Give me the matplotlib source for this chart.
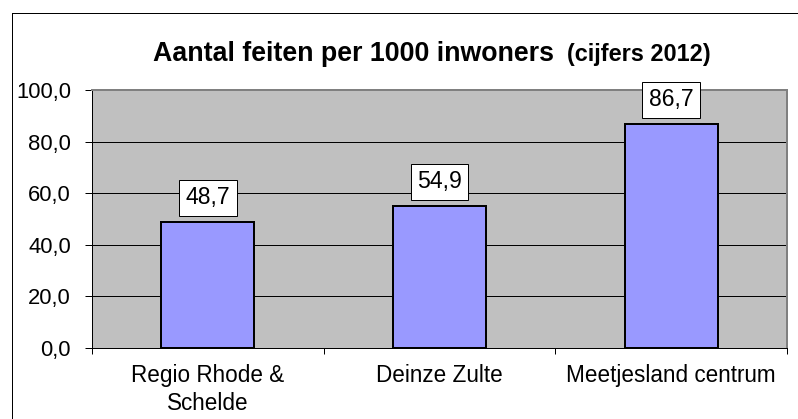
import matplotlib
matplotlib.use("Agg")
import matplotlib.pyplot as plt
from matplotlib.lines import Line2D
from matplotlib.ticker import FixedLocator, FuncFormatter

categories = ["Regio Rhode &\nSchelde", "Deinze Zulte", "Meetjesland centrum"]
values = [48.7, 54.9, 86.7]
yticks = [0, 20, 40, 60, 80, 100]
title_main = "Aantal feiten per 1000 inwoners"
title_sub = "(cijfers 2012)"

W, H = 798, 419
DPI = 72
plt.rcParams['font.family'] = ['Liberation Sans', 'DejaVu Sans']

fig = plt.figure(figsize=(W / DPI, H / DPI), dpi=DPI)
fig.patch.set_facecolor("white")

left, right, top, bottom = 92, 787, 90, 348
ax = fig.add_axes([left / W, 1 - bottom / H, (right - left) / W, (bottom - top) / H])
ax.set_facecolor("#C0C0C0")

x = list(range(len(categories)))
bars = ax.bar(x, values, width=0.40, color="#9999FF", edgecolor="black", linewidth=2, zorder=3)

ax.set_xlim(-0.5, len(categories) - 0.5)
ax.set_ylim(0, 100)
ax.set_yticks(yticks)
ax.yaxis.set_major_formatter(FuncFormatter(lambda v, p: f"{v:.1f}".replace(".", ",")))
ax.yaxis.grid(True, color="black", linewidth=1, zorder=1)
ax.set_axisbelow(True)

ax.set_xticks(x)
ax.set_xticklabels(categories, fontsize=22.5, linespacing=1.25)
ax.xaxis.set_minor_locator(FixedLocator([i - 0.5 for i in range(len(categories) + 1)]))
ax.tick_params(axis="x", which="major", length=0, pad=16)
ax.tick_params(axis="x", which="minor", length=6, width=1, color="black", direction="out")
ax.tick_params(axis="y", which="major", length=7, width=1, color="black", direction="out",
               labelsize=22, pad=14)

for s in ["top", "right"]:
    ax.spines[s].set_color("#808080")
    ax.spines[s].set_linewidth(2)
for s in ["left", "bottom"]:
    ax.spines[s].set_color("black")
    ax.spines[s].set_linewidth(1)

for xi, v in zip(x, values):
    ax.annotate(f"{v:.1f}".replace(".", ","), xy=(xi, v), xytext=(0, 13),
                textcoords="offset points", ha="center", va="bottom", fontsize=23,
                bbox=dict(boxstyle="square,pad=0.28", facecolor="white", edgecolor="black", linewidth=1),
                zorder=5)

fig.text(152.7 / W, 1 - 61 / H, title_main, fontsize=26.8, fontweight="bold",
         ha="left", va="baseline")
fig.text(566.7 / W, 1 - 61 / H, title_sub, fontsize=23.5, fontweight="bold",
         ha="left", va="baseline")

# outer chart border (right/bottom outside of image)
fig.add_artist(Line2D([11.5 / W, 11.5 / W], [0, 1 - 12.5 / H], color="black", linewidth=1,
                      transform=fig.transFigure))
fig.add_artist(Line2D([11.5 / W, 1], [1 - 12.5 / H, 1 - 12.5 / H], color="black", linewidth=1,
                      transform=fig.transFigure))

fig.savefig("out.png", dpi=DPI)
